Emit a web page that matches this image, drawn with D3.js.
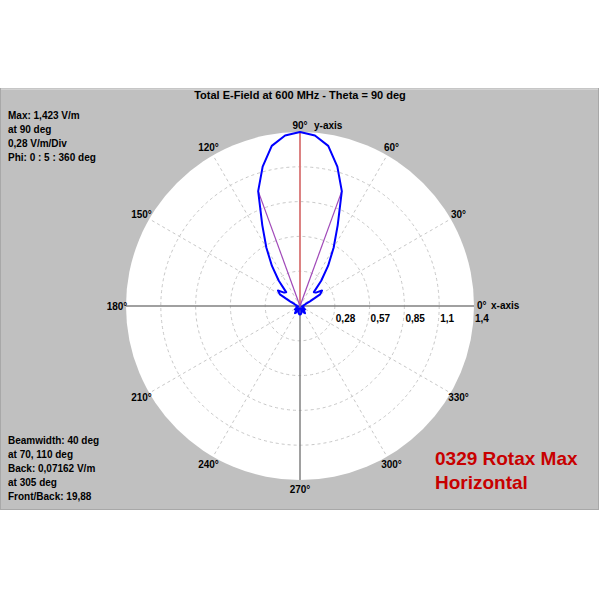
<!DOCTYPE html>
<html>
<head>
<meta charset="utf-8">
<script src="https://cdn.jsdelivr.net/npm/d3@7"></script>
<style>
  body { margin: 0; background: #fff; }
  svg { display: block; font-family: "Liberation Sans", Arial, sans-serif; font-weight: bold; }
</style>
</head>
<body>
<svg id="chart"></svg>
<script>
(function (d3) {
    'use strict';

    // phi angles (deg) and total E-field (V/m)
    var phi = [0, 5, 10, 15, 20, 25, 30, 35, 40, 45, 50, 55, 60, 65, 70, 75, 80, 85,
        90, 95, 100, 105, 110, 115, 120, 125, 130, 135, 140, 145, 150, 155, 160, 165, 170, 175,
        180, 185, 190, 195, 200, 205, 210, 215, 220, 225, 230, 235, 240, 245, 250, 255, 260, 265,
        270, 275, 280, 285, 290, 295, 300, 305, 310, 315, 320, 325, 330, 335, 340, 345, 350, 355];
    var efield = [0.030, 0.025, 0.030, 0.040, 0.050, 0.090, 0.190, 0.220, 0.170, 0.160, 0.270, 0.400, 0.550, 0.730, 1.000, 1.180, 1.330, 1.400,
        1.423, 1.400, 1.330, 1.180, 1.000, 0.730, 0.550, 0.400, 0.270, 0.160, 0.170, 0.220, 0.190, 0.090, 0.050, 0.040, 0.030, 0.025,
        0.030, 0.025, 0.020, 0.015, 0.020, 0.030, 0.040, 0.050, 0.045, 0.030, 0.050, 0.0716, 0.060, 0.030, 0.020, 0.040, 0.060, 0.068,
        0.070, 0.068, 0.060, 0.040, 0.020, 0.030, 0.060, 0.07162, 0.050, 0.030, 0.045, 0.050, 0.040, 0.030, 0.020, 0.015, 0.020, 0.025];

    var maxValue = 1.423, maxAngle = 90;
    var beamEdges = [70, 110];
    var ringValues = [0.2846, 0.5692, 0.8538, 1.1384, 1.423];
    var ringLabels = ['0,28', '0,57', '0,85', '1,1', '1,4'];
    var angleTicks = [0, 30, 60, 90, 120, 150, 180, 210, 240, 270, 300, 330];

    var infoTop = ['Max: 1,423 V/m', 'at 90 deg', '0,28 V/m/Div', 'Phi: 0 : 5 : 360 deg'];
    var infoBottom = ['Beamwidth: 40 deg', 'at 70, 110 deg', 'Back: 0,07162 V/m', 'at 305 deg', 'Front/Back: 19,88'];
    var caption = ['0329 Rotax Max', 'Horizontal'];

    var width = 600, height = 600,
        cx = 300, cy = 306, R = 174;

    var r = d3.scaleLinear().domain([0, maxValue]).range([0, R]);
    var rad = function (deg) { return deg * Math.PI / 180; };
    var px = function (deg, v) { return cx + r(v) * Math.cos(rad(deg)); };
    var py = function (deg, v) { return cy - r(v) * Math.sin(rad(deg)); };

    var svg = d3.select('#chart').attr('width', width).attr('height', height);

    // grey panel
    svg.append('rect')
        .attr('x', 0.5).attr('y', 88.5).attr('width', 598).attr('height', 421)
        .attr('fill', '#c0c0c0').attr('stroke', '#a8a8a8');
    svg.append('line')
        .attr('x1', 1).attr('x2', 598).attr('y1', 89).attr('y2', 89)
        .attr('stroke', '#e4e4e4');

    svg.append('text')
        .attr('x', 300).attr('y', 99)
        .attr('text-anchor', 'middle')
        .style('font-size', '11px')
        .text('Total E-Field at 600 MHz - Theta = 90 deg');

    var g = svg.append('g');

    g.append('circle')
        .attr('cx', cx).attr('cy', cy).attr('r', R)
        .attr('fill', '#fff');

    // dashed rings
    g.selectAll('.ring')
        .data(ringValues.slice(0, -1))
        .enter().append('circle')
        .attr('class', 'ring')
        .attr('cx', cx).attr('cy', cy)
        .attr('r', function (d) { return r(d); })
        .attr('fill', 'none')
        .attr('stroke', '#c8c8c8')
        .attr('stroke-dasharray', '3,3');

    // dashed spokes
    g.selectAll('.spoke')
        .data(angleTicks.filter(function (a) { return a % 90 !== 0; }))
        .enter().append('line')
        .attr('class', 'spoke')
        .attr('x1', cx).attr('y1', cy)
        .attr('x2', function (a) { return px(a, maxValue); })
        .attr('y2', function (a) { return py(a, maxValue); })
        .attr('stroke', '#c8c8c8')
        .attr('stroke-dasharray', '3,3');

    // axes
    g.append('line')
        .attr('x1', cx - R).attr('x2', cx + R).attr('y1', cy).attr('y2', cy)
        .attr('stroke', '#808080').attr('stroke-width', 1.5);
    g.append('line')
        .attr('x1', cx).attr('x2', cx).attr('y1', cy - R).attr('y2', cy + R)
        .attr('stroke', '#808080').attr('stroke-width', 1.5);

    // max direction
    g.append('line')
        .attr('x1', cx).attr('y1', cy)
        .attr('x2', px(maxAngle, maxValue)).attr('y2', py(maxAngle, maxValue))
        .attr('stroke', '#f07878').attr('stroke-width', 1.5);

    // beamwidth edges
    g.selectAll('.beam')
        .data(beamEdges)
        .enter().append('line')
        .attr('class', 'beam')
        .attr('x1', cx).attr('y1', cy)
        .attr('x2', function (a) { return px(a, efield[phi.indexOf(a)]); })
        .attr('y2', function (a) { return py(a, efield[phi.indexOf(a)]); })
        .attr('stroke', '#a048b8').attr('stroke-width', 1.2);

    // pattern
    var pattern = d3.lineRadial()
        .angle(function (d, i) { return rad(90 - phi[i]); })
        .radius(function (d) { return r(d); })
        .curve(d3.curveLinearClosed);

    g.append('path')
        .attr('transform', 'translate(' + cx + ',' + cy + ')')
        .attr('d', pattern(efield))
        .attr('fill', 'none')
        .attr('stroke', '#0000ff')
        .attr('stroke-width', 2)
        .attr('stroke-linejoin', 'round');

    // ring labels
    g.selectAll('.ring-label')
        .data(ringValues)
        .enter().append('text')
        .attr('class', 'ring-label')
        .attr('x', function (d) { return cx + r(d) + 1; })
        .attr('y', cy + 16)
        .style('font-size', '10px')
        .text(function (d, i) { return ringLabels[i]; });

    // angle labels
    g.selectAll('.angle-label')
        .data(angleTicks.filter(function (a) { return a !== 0; }))
        .enter().append('text')
        .attr('class', 'angle-label')
        .attr('x', function (a) { return cx + (R + 9) * Math.cos(rad(a)); })
        .attr('y', function (a) {
            var y = cy - (R + 9) * Math.sin(rad(a)) + 3.5;
            return a === 90 ? y + 2 : y;
        })
        .attr('text-anchor', 'middle')
        .style('font-size', '10px')
        .text(function (a) { return a + '°'; });

    g.append('text')
        .attr('x', cx + R + 3).attr('y', cy + 3)
        .style('font-size', '10px')
        .text('0°');
    g.append('text')
        .attr('x', cx + R + 17).attr('y', cy + 3)
        .style('font-size', '10px')
        .text('x-axis');
    g.append('text')
        .attr('x', cx + 14).attr('y', cy - R - 9 + 5.5)
        .style('font-size', '10px')
        .text('y-axis');

    // info blocks
    svg.selectAll('.info-top')
        .data(infoTop)
        .enter().append('text')
        .attr('class', 'info-top')
        .attr('x', 8)
        .attr('y', function (d, i) { return 118.5 + i * 14; })
        .style('font-size', '10px')
        .text(function (d) { return d; });

    svg.selectAll('.info-bottom')
        .data(infoBottom)
        .enter().append('text')
        .attr('class', 'info-bottom')
        .attr('x', 8)
        .attr('y', function (d, i) { return 443.5 + i * 14; })
        .style('font-size', '10px')
        .text(function (d) { return d; });

    svg.selectAll('.caption')
        .data(caption)
        .enter().append('text')
        .attr('class', 'caption')
        .attr('x', 435)
        .attr('y', function (d, i) { return 465 + i * 24; })
        .attr('fill', '#c80000')
        .style('font-size', '19px')
        .text(function (d) { return d; });

})(window.d3);
</script>
</body>
</html>
